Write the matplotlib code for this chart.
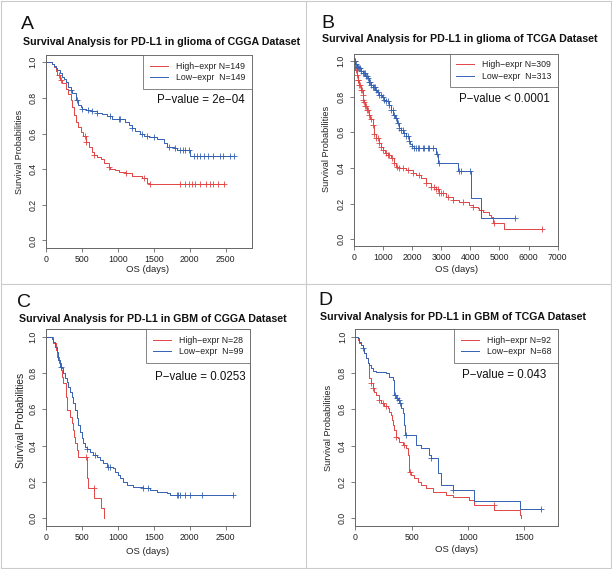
import numpy as np
import matplotlib
matplotlib.use('Agg')
import matplotlib.pyplot as plt
from matplotlib.lines import Line2D

plt.rcParams['font.family'] = ['Liberation Sans', 'DejaVu Sans']

W, H = 612, 569
RED = '#e24444'
BLUE = '#3460b2'

# ---------------- Panel A: glioma, CGGA ----------------
A_high_t = [0, 92, 115, 138, 161, 198, 231, 277, 314, 346, 369, 392, 415, 447, 484, 517, 563, 600,
            646, 669, 715, 761, 807, 876, 899, 969, 1015, 1107, 1199, 1338, 1407, 1430, 2480]
A_high_s = [1.0, 0.991, 0.976, 0.953, 0.929, 0.901, 0.882, 0.849, 0.821, 0.789, 0.751, 0.705, 0.667,
            0.639, 0.611, 0.587, 0.555, 0.527, 0.499, 0.48, 0.467, 0.456, 0.437, 0.415, 0.40, 0.393,
            0.387, 0.378, 0.363, 0.35, 0.321, 0.318, 0.318]
A_high_c = [184, 208, 540, 563, 669, 876, 1121, 1361, 1453, 1868, 1937, 1983, 2030, 2076, 2145,
            2223, 2283, 2329, 2398, 2477]
A_low_t = [0, 69, 92, 115, 138, 161, 198, 231, 254, 277, 314, 346, 369, 415, 447, 484, 507, 553,
           623, 715, 784, 853, 923, 1038, 1107, 1153, 1199, 1245, 1315, 1361, 1430, 1545, 1637,
           1684, 1776, 1822, 2006, 2620]
A_low_s = [1.0, 1.0, 0.991, 0.981, 0.966, 0.957, 0.938, 0.92, 0.905, 0.892, 0.86, 0.845, 0.83,
           0.789, 0.761, 0.748, 0.736, 0.733, 0.727, 0.718, 0.709, 0.696, 0.682, 0.68, 0.667,
           0.649, 0.63, 0.615, 0.598, 0.587, 0.58, 0.568, 0.546, 0.527, 0.518, 0.508, 0.475, 0.475]
A_low_c = [346, 438, 507, 586, 646, 715, 899, 1015, 1038, 1199, 1338, 1407, 1499, 1707, 1799,
           1868, 1905, 1937, 1983, 2053, 2099, 2145, 2200, 2260, 2329, 2421, 2467, 2560, 2620]
A_labels = ['High\u2212expr N=149', 'Low\u2212expr  N=149']
A_title = 'Survival Analysis for PD-L1 in glioma of CGGA Dataset'
A_p = 'P\u2212value = 2e\u221204'
A_xticks = [0, 500, 1000, 1500, 2000, 2500]

# ---------------- Panel B: glioma, TCGA ----------------
B_high_t = [0, 57, 103, 137, 194, 252, 309, 332, 366, 400, 458, 515, 572, 652, 709, 766, 858, 938,
            995, 1087, 1167, 1281, 1395, 1453, 1567, 1796, 2024, 2139, 2310, 2482, 2654, 2825, 2940,
            3168, 3397, 3626, 3969, 4083, 4255, 4312, 4426, 4655, 4712, 4770, 5170, 6450]
B_high_s = [1.0, 0.95, 0.921, 0.893, 0.864, 0.836, 0.811, 0.78, 0.771, 0.746, 0.723, 0.695, 0.676,
            0.64, 0.592, 0.566, 0.538, 0.519, 0.501, 0.482, 0.473, 0.454, 0.426, 0.407, 0.398,
            0.389, 0.371, 0.361, 0.342, 0.314, 0.295, 0.28, 0.262, 0.239, 0.221, 0.211, 0.193,
            0.183, 0.174, 0.165, 0.155, 0.136, 0.127, 0.09, 0.056, 0.056]
B_high_c = [46, 80, 103, 137, 160, 194, 229, 252, 286, 309, 332, 366, 400, 423, 458, 480, 538, 595,
            652, 709, 766, 824, 881, 938, 1018, 1110, 1167, 1224, 1315, 1395, 1475, 1567, 1681,
            1853, 2024, 2253, 2482, 2654, 2768, 2825, 2882, 2940, 2997, 3054, 3225, 3397, 3740,
            4083, 4369, 4827, 6450]
B_low_t = [0, 57, 103, 172, 252, 309, 400, 480, 538, 595, 652, 743, 801, 881, 961, 1052, 1110,
           1201, 1281, 1361, 1430, 1475, 1544, 1624, 1704, 1796, 1887, 1933, 2002, 2082, 2825,
           2882, 3569, 4026, 4369, 5550]
B_low_s = [1.0, 0.983, 0.968, 0.959, 0.946, 0.931, 0.916, 0.903, 0.884, 0.866, 0.852, 0.837,
           0.824, 0.811, 0.798, 0.783, 0.774, 0.755, 0.727, 0.699, 0.68, 0.652, 0.623, 0.611,
           0.596, 0.578, 0.551, 0.533, 0.523, 0.514, 0.477, 0.43, 0.383, 0.23, 0.118, 0.118]
B_low_c = [46, 80, 114, 149, 194, 229, 263, 309, 343, 377, 423, 458, 492, 538, 572, 606, 652, 686,
           721, 766, 824, 881, 938, 995, 1052, 1110, 1167, 1224, 1281, 1338, 1395, 1453, 1510,
           1567, 1624, 1681, 1739, 1796, 1853, 1910, 2002, 2082, 2139, 2196, 2253, 2368, 2425,
           2539, 2596, 2711, 2850, 2920, 3626, 3683, 4003, 5547]
B_labels = ['High\u2212expr N=309', 'Low\u2212expr  N=313']
B_title = 'Survival Analysis for PD-L1 in glioma of TCGA Dataset'
B_p = 'P\u2212value < 0.0001'
B_xticks = [0, 1000, 2000, 3000, 4000, 5000, 6000, 7000]

# ---------------- Panel C: GBM, CGGA ----------------
C_high_t = [0, 106, 144, 162, 190, 213, 231, 245, 278, 287, 292, 301, 338, 361, 375, 394, 407,
            431, 444, 569, 579, 593, 676, 764, 815]
C_high_s = [1.0, 0.963, 0.927, 0.89, 0.853, 0.817, 0.78, 0.743, 0.707, 0.67, 0.633, 0.597, 0.56,
            0.523, 0.486, 0.45, 0.413, 0.376, 0.339, 0.266, 0.22, 0.165, 0.11, 0.055, 0.0]
C_high_c = [560, 671]
C_low_t = [0, 60, 83, 106, 130, 153, 176, 199, 222, 245, 269, 292, 315, 338, 361, 384, 407, 431,
           454, 477, 500, 523, 546, 569, 616, 662, 708, 755, 801, 847, 940, 963, 1009, 1032, 1079,
           1125, 1218, 1356, 1449, 1542, 1681, 1727, 2600]
C_low_s = [1.0, 1.0, 0.987, 0.972, 0.945, 0.917, 0.872, 0.835, 0.826, 0.798, 0.771, 0.752, 0.725,
           0.697, 0.67, 0.633, 0.596, 0.55, 0.514, 0.477, 0.44, 0.413, 0.394, 0.382, 0.367, 0.349,
           0.339, 0.321, 0.303, 0.284, 0.275, 0.257, 0.239, 0.22, 0.202, 0.183, 0.174, 0.165,
           0.156, 0.147, 0.138, 0.128, 0.128]
C_low_c = [213, 579, 685, 870, 894, 1356, 1426, 1819, 1843, 1866, 1935, 2005, 2167, 2600]
C_labels = ['High\u2212expr N=28', 'Low\u2212expr  N=99']
C_title = 'Survival Analysis for PD-L1 in GBM of CGGA Dataset'
C_p = 'P\u2212value = 0.0253'
C_xticks = [0, 500, 1000, 1500, 2000, 2500]

# ---------------- Panel D: GBM, TCGA ----------------
D_high_t = [0, 21, 36, 50, 65, 80, 95, 109, 118, 124, 139, 154, 169, 183, 213, 228, 257, 287, 302,
            317, 325, 337, 346, 361, 376, 391, 420, 450, 464, 479, 494, 524, 553, 583, 627, 686,
            805, 864, 1012, 1056, 1234, 1462, 1470]
D_high_s = [1.0, 0.982, 0.963, 0.954, 0.936, 0.908, 0.881, 0.853, 0.826, 0.771, 0.743, 0.716,
            0.697, 0.679, 0.651, 0.633, 0.62, 0.606, 0.587, 0.569, 0.541, 0.514, 0.486, 0.45,
            0.44, 0.422, 0.404, 0.385, 0.349, 0.257, 0.239, 0.22, 0.202, 0.183, 0.165, 0.147,
            0.128, 0.119, 0.101, 0.073, 0.046, 0.018, 0.0]
D_high_c = [139, 154, 213, 243, 272, 361, 435, 485, 1228]
D_low_t = [0, 21, 36, 50, 65, 80, 95, 109, 124, 139, 154, 183, 272, 302, 331, 346, 361, 376, 391,
           405, 420, 429, 444, 538, 583, 657, 672, 731, 760, 864, 1056, 1462, 1650]
D_low_s = [1.0, 0.991, 0.972, 0.954, 0.936, 0.908, 0.881, 0.853, 0.844, 0.826, 0.811, 0.804,
           0.798, 0.78, 0.761, 0.679, 0.661, 0.651, 0.633, 0.606, 0.578, 0.514, 0.459, 0.404,
           0.385, 0.349, 0.33, 0.248, 0.183, 0.156, 0.095, 0.051, 0.051]
D_low_c = [65, 355, 367, 385, 399, 450, 675, 870, 1648]
D_labels = ['High\u2212expr N=92', 'Low\u2212expr  N=68']
D_title = 'Survival Analysis for PD-L1 in GBM of TCGA Dataset'
D_p = 'P\u2212value = 0.043'
D_xticks = [0, 500, 1000, 1500]

yticks = [0.0, 0.2, 0.4, 0.6, 0.8, 1.0]
ytick_labels = ['0.0', '0.2', '0.4', '0.6', '0.8', '1.0']

panels = [
    dict(letter='A', high=(A_high_t, A_high_s, A_high_c), low=(A_low_t, A_low_s, A_low_c),
         labels=A_labels, title=A_title, p=A_p, xticks=A_xticks,
         box=(45.7, 55.2, 251.7, 247.6), xmax=2860,
         letter_xy=(21.0, 29.3), title_xy=(161.7, 45.0), p_xy=(245.0, 103.0),
         ylab_xy=(19.3, 151.7), xlab_xy=(148.0, 269.3), ylab_fs=6.5),
    dict(letter='B', high=(B_high_t, B_high_s, B_high_c), low=(B_low_t, B_low_s, B_low_c),
         labels=B_labels, title=B_title, p=B_p, xticks=B_xticks,
         box=(353.7, 53.9, 558.3, 246.4), xmax=7020,
         letter_xy=(321.5, 28.0), title_xy=(460.0, 41.7), p_xy=(549.3, 101.7),
         ylab_xy=(326.7, 149.0), xlab_xy=(456.3, 269.3), ylab_fs=6.6),
    dict(letter='C', high=(C_high_t, C_high_s, C_high_c), low=(C_low_t, C_low_s, C_low_c),
         labels=C_labels, title=C_title, p=C_p, xticks=C_xticks,
         box=(45.7, 329.4, 250.0, 525.6), xmax=2840,
         letter_xy=(17.5, 306.7), title_xy=(153.0, 322.3), p_xy=(246.0, 380.0),
         ylab_xy=(20.7, 420.8), xlab_xy=(148.0, 551.0), ylab_fs=7.4),
    dict(letter='D', high=(D_high_t, D_high_s, D_high_c), low=(D_low_t, D_low_s, D_low_c),
         labels=D_labels, title=D_title, p=D_p, xticks=D_xticks,
         box=(355.3, 329.4, 558.3, 525.6), xmax=1801,
         letter_xy=(318.5, 305.0), title_xy=(453.5, 320.0), p_xy=(546.7, 377.7),
         ylab_xy=(328.7, 427.5), xlab_xy=(456.3, 550.0), ylab_fs=6.6),
]

fig = plt.figure(figsize=(W / 100, H / 100), dpi=100)
fig.patch.set_facecolor('white')


def fx(px):
    return px / W


def fy(py):
    return 1 - py / H


# grey frame and dividers
frame_c = '#cbcbcb'
for xs, ys in [([0.5, 610.7], [0.5, 0.5]), ([0.5, 610.7], [568.3, 568.3]),
               ([0.5, 0.5], [0.5, 568.3]), ([610.7, 610.7], [0.5, 568.3]),
               ([305.7, 305.7], [0.5, 568.3]), ([0.5, 610.7], [284.3, 284.3])]:
    fig.add_artist(Line2D([fx(x) for x in xs], [fy(y) for y in ys], color=frame_c, lw=0.8))

spine_c = '#666666'
text_c = '#222222'

for P in panels:
    l, t, r, b = P['box']
    ax = fig.add_axes([fx(l), fy(b), (r - l) / W, (b - t) / H])
    for (tt, ss, cc), col in [(P['high'], RED), (P['low'], BLUE)]:
        tt = np.asarray(tt, float)
        ss = np.asarray(ss, float)
        ax.step(tt, ss, where='post', color=col, lw=0.7)
        cc = np.asarray(cc, float)
        idx = np.searchsorted(tt, cc, side='right') - 1
        ax.plot(cc, ss[idx], ls='none', marker='+', ms=4.3, mew=0.6, color=col)
    ax.set_xlim(0, P['xmax'])
    ax.set_ylim(-0.04, 1.04)
    ax.set_xticks(P['xticks'])
    ax.set_xticklabels([str(v) for v in P['xticks']], fontsize=6.3, color=text_c)
    ax.set_yticks(yticks)
    ax.set_yticklabels(ytick_labels, fontsize=6.3, color=text_c, rotation=90, va='center')
    ax.tick_params(axis='x', length=2.9, width=0.6, color=spine_c, pad=2.2)
    ax.tick_params(axis='y', length=2.9, width=0.6, color=spine_c, pad=3.0)
    for sp in ax.spines.values():
        sp.set_color(spine_c)
        sp.set_linewidth(0.7)
    handles = [Line2D([], [], color=RED, lw=0.7), Line2D([], [], color=BLUE, lw=0.7)]
    leg = ax.legend(handles, P['labels'], loc='upper right', bbox_to_anchor=(1.0, 1.0),
                    borderaxespad=0.0, fontsize=6.3, frameon=True, fancybox=False,
                    handlelength=2.1, handletextpad=0.9, borderpad=0.75, labelspacing=0.25)
    leg.get_frame().set_edgecolor(spine_c)
    leg.get_frame().set_linewidth(0.7)
    for txt in leg.get_texts():
        txt.set_color(text_c)
    fig.text(fx(P['p_xy'][0]), fy(P['p_xy'][1]), P['p'], ha='right', va='baseline',
             fontsize=8.3, color='#111111')
    fig.text(fx(P['letter_xy'][0]), fy(P['letter_xy'][1]), P['letter'], ha='left',
             va='baseline', fontsize=14, color='#111111')
    fig.text(fx(P['title_xy'][0]), fy(P['title_xy'][1]), P['title'], ha='center',
             va='baseline', fontsize=7.7, fontweight='bold', color='#111111')
    fig.text(fx(P['ylab_xy'][0]), fy(P['ylab_xy'][1]), 'Survival Probabilities', ha='center',
             va='center', rotation=90, fontsize=P['ylab_fs'], color=text_c)
    fig.text(fx(P['xlab_xy'][0]), fy(P['xlab_xy'][1]), 'OS (days)', ha='center',
             va='center', fontsize=6.8, color=text_c)

fig.savefig('out.png', dpi=100, facecolor='white')
